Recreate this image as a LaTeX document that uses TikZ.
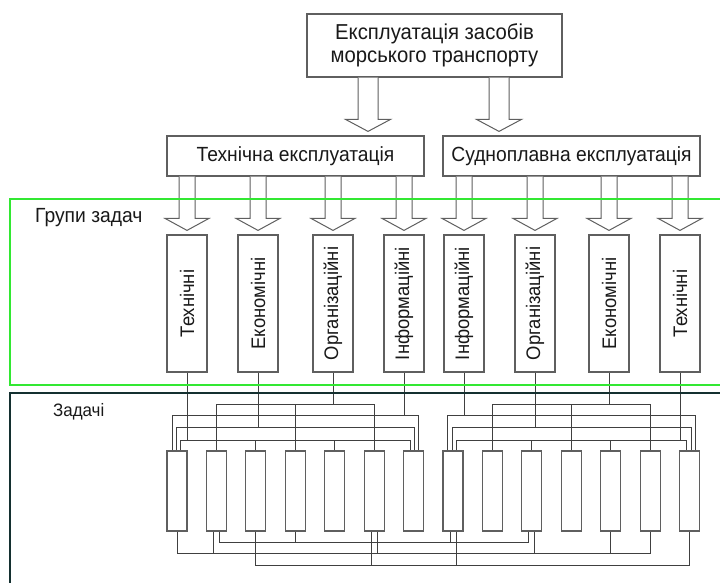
\documentclass[tikz,border=0pt]{standalone}
\usepackage{fontspec}
\usepackage{graphicx}
\setmainfont{Liberation Sans}[FakeStretch = 0.94]
\usetikzlibrary{calc}

\definecolor{boxgray}{RGB}{95,95,95}
\definecolor{groupgreen}{RGB}{50,232,50}
\definecolor{taskdark}{RGB}{20,48,48}

% hollow block arrow: x from #1, from node #2 down to node #3
\newcommand\hollowarrow[5]{%
    \draw [hollow] let \p1 = (#1 |- #2.south), \p2 = (#1 |- #3.north) in
        (\x1 - #4, \y1) -- (\x1 - #4, \y2 + 16pt) -- (\x1 - #5, \y2 + 16pt)
        -- (\x1, \y2 + 4pt) -- (\x1 + #5, \y2 + 16pt) -- (\x1 + #4, \y2 + 16pt)
        -- (\x1 + #4, \y1);
}

\begin{document}
\begin{tikzpicture}[x = 1pt, y = -1pt,
    box/.style = {draw = boxgray, line width = 1.2pt, fill = white, inner sep = 0,
        text = black!90, font = \fontsize{20.5}{22}\selectfont},
    groupbox/.style = {box, minimum width = 40pt, minimum height = 137pt,
        font = \fontsize{19.6}{22}\selectfont},
    taskbox/.style = {draw = boxgray, line width = 1.2pt, fill = white,
        minimum width = 20pt, minimum height = 80pt, inner sep = 0},
    hollow/.style = {draw = boxgray, line width = 1pt, fill = white},
    wire/.style = {draw = black!75, line width = 1pt},
    label/.style = {anchor = west, inner sep = 0, text = black!90,
        font = \fontsize{20.5}{22}\selectfont}]

    \useasboundingbox (0, 0) rectangle (720, 583);

    % levels of the buses
    \coordinate (lev1) at (0, 404);
    \coordinate (lev2) at (0, 415);
    \coordinate (lev3) at (0, 427);
    \coordinate (lev4) at (0, 440);
    \coordinate (botA) at (0, 542);
    \coordinate (botB) at (0, 553);
    \coordinate (botC) at (0, 565);

    \node [box, minimum width = 255pt, minimum height = 63pt, align = center,
        font = \fontsize{21.6}{23.5}\selectfont]
        (top) at (434.5, 45.5) {Експлуатація засобів\\морського транспорту};
    \node [box, minimum width = 257pt, minimum height = 40pt]
        (tech) at (295.5, 156) {Технічна експлуатація};
    \node [box, minimum width = 257pt, minimum height = 40pt]
        (nav) at (571.5, 156) {Судноплавна експлуатація};

    \coordinate (s1) at (368, 0);
    \coordinate (s2) at (499, 0);
    \hollowarrow{s1}{top}{tech}{10pt}{22.5pt}
    \hollowarrow{s2}{top}{nav}{10pt}{22.5pt}

    % groups of tasks
    \foreach \i/\x/\lbl in {1/187/Технічні, 2/258/Економічні, 3/333/Організаційні,
        4/404/Інформаційні, 5/464/Інформаційні, 6/535/Організаційні,
        7/609/Економічні, 8/680/Технічні}
        \node [groupbox] (g\i) at (\x, 303.5) {\rotatebox{90}{\lbl}};

    \foreach \i/\src in {1/tech, 2/tech, 3/tech, 4/tech, 5/nav, 6/nav, 7/nav, 8/nav} {
        \hollowarrow{g\i}{\src}{g\i}{8pt}{22pt}
    }

    % tasks
    \foreach \i in {1, ..., 14}
        \node [taskbox] (t\i) at ({177 + 39.43 * (\i - 1)}, 491) {};

    % left group, top
    % 1
    \draw [wire] (g3.south) -- (g3.south |- lev1);
    \draw [wire] (t2.north) |- (t6.north |- lev1) -- (t6.north);
    \draw [wire] (t4.north) -- (t4.north |- lev1);
    % 2
    \draw [wire] (g4.south) -- (g4.south |- lev2);
    \draw [wire] ([xshift = -5pt]t1.north) |- ([xshift = 5pt]t7.north |- lev2) -- ([xshift = 5pt]t7.north);
    % 3
    \draw [wire] (g2.south) -- (g2.south |- lev3);
    \draw [wire] ([xshift = -1pt]t1.north) |- ([xshift = 1pt]t7.north |- lev3) -- ([xshift = 1pt]t7.north);
    % 4
    \draw [wire] (g1.south) -- (g1.south |- lev4);
    \draw [wire] ([xshift = 3pt]t1.north) |- ([xshift = -3pt]t7.north |- lev4) -- ([xshift = -3pt]t7.north);
    \draw [wire] (t3.north) -- (t3.north |- lev4);
    \draw [wire] (t5.north) -- (t5.north |- lev4);

    % right group, top
    % 1
    \draw [wire] (g7.south) -- (g7.south |- lev1);
    \draw [wire] (t9.north) |- (t13.north |- lev1) -- (t13.north);
    \draw [wire] (t11.north) -- (t11.north |- lev1);
    % 2
    \draw [wire] (g5.south) -- (g5.south |- lev2);
    \draw [wire] ([xshift = -6pt]t8.north) |- ([xshift = 6pt]t14.north |- lev2) -- ([xshift = 6pt]t14.north);
    % 3
    \draw [wire] (g6.south) -- (g6.south |- lev3);
    \draw [wire] ([xshift = -1pt]t8.north) |- ([xshift = 2pt]t14.north |- lev3) -- ([xshift = 2pt]t14.north);
    % 4
    \draw [wire] (g8.south) -- (g8.south |- lev4);
    \draw [wire] ([xshift = 3pt]t8.north) |- ([xshift = -3pt]t14.north |- lev4) -- ([xshift = -3pt]t14.north);
    \draw [wire] (t10.north) -- (t10.north |- lev4);
    \draw [wire] (t12.north) -- (t12.north |- lev4);

    % bottom
    % A
    \draw [wire] ([xshift = 3pt]t2.south) |- ([xshift = -3pt]t10.south |- botA) -- ([xshift = -3pt]t10.south);
    \draw [wire] (t4.south) -- (t4.south |- botA);
    \draw [wire] ([xshift = -3pt]t8.south) -- ([xshift = -3pt]t8.south |- botA);
    % B
    \draw [wire] (t1.south) |- (t13.south |- botB) -- (t13.south);
    \draw [wire] ([xshift = -3pt]t2.south) -- ([xshift = -3pt]t2.south |- botB);
    \draw [wire] ([xshift = 3pt]t6.south) -- ([xshift = 3pt]t6.south |- botB);
    \draw [wire] ([xshift = 3pt]t10.south) -- ([xshift = 3pt]t10.south |- botB);
    \draw [wire] (t12.south) -- (t12.south |- botB);
    % C
    \draw [wire] (t3.south) |- (t14.south |- botC) -- (t14.south);
    \draw [wire] ([xshift = -3pt]t6.south) -- ([xshift = -3pt]t6.south |- botC);
    \draw [wire] ([xshift = 3pt]t8.south) -- ([xshift = 3pt]t8.south |- botC);

    % frames
    \draw [groupgreen, line width = 2.4pt] (722, 199) -- (10, 199) -- (10, 385) -- (722, 385);
    \draw [taskdark, line width = 2.4pt] (722, 393) -- (10, 393) -- (10, 585);

    \node [label] (groups) at (35, 218) {Групи задач};
    \node [label, font = \fontsize{18}{20}\selectfont] (tasks) at (53, 412) {Задачі};

\end{tikzpicture}
\end{document}
